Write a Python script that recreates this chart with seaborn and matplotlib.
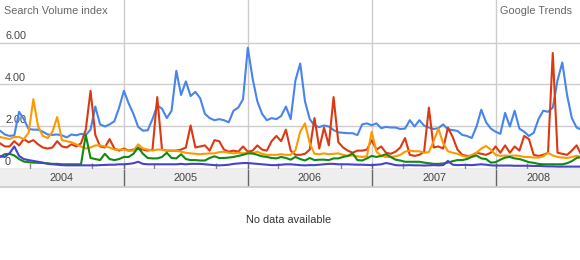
import numpy as np
import pandas as pd
import matplotlib
matplotlib.use("Agg")
import matplotlib.pyplot as plt
import matplotlib.transforms as mtransforms
import seaborn as sns

# ---------------- data ----------------
dates = pd.date_range("2004-01-04", periods=123, freq="14D")

blue = [1.80, 1.62, 1.55, 1.58, 2.70, 2.35, 1.88, 1.85, 1.85, 1.75,
        1.62, 1.60, 1.62, 1.58, 1.48, 1.62, 1.58, 1.65, 1.60, 1.85,
        2.95, 2.10, 2.00, 2.10, 2.25, 2.90, 3.70, 3.10, 2.60, 1.98,
        1.80, 1.82, 2.35, 3.00, 2.85, 2.40, 2.75, 4.65, 3.50, 4.15,
        3.45, 3.65, 3.35, 2.60, 2.40, 2.30, 2.35, 2.30, 2.20, 2.75,
        2.90, 3.30, 5.75, 4.30, 3.20, 2.60, 2.30, 2.40, 2.35, 2.50,
        2.95, 2.35, 4.20, 5.00, 3.20, 2.35, 2.05, 1.97, 2.05, 2.00,
        1.83, 1.72, 1.70, 1.68, 1.68, 1.59, 2.10, 2.15, 2.06, 2.15,
        1.92, 1.98, 1.95, 1.95, 1.88, 1.90, 2.30, 2.00, 2.30, 2.04,
        1.95, 1.88, 1.92, 2.10, 1.86, 1.83, 1.79, 1.60, 1.55, 1.45,
        2.00, 2.80, 2.20, 1.90, 1.75, 1.65, 2.65, 2.00, 2.75, 1.90,
        1.75, 1.55, 1.70, 2.35, 2.75, 2.70, 2.90, 4.20, 5.05, 3.50,
        2.40, 1.95, 1.85]

red = [1.20, 1.05, 1.05, 1.30, 1.10, 1.40, 1.25, 1.35, 1.15, 1.00,
       0.95, 1.00, 1.30, 1.05, 1.00, 1.15, 1.05, 1.20, 1.85, 3.70,
       1.60, 1.05, 1.00, 1.40, 0.95, 0.85, 0.95, 0.85, 0.90, 0.95,
       0.90, 0.85, 0.90, 3.40, 0.90, 0.85, 0.85, 0.85, 0.90, 1.00,
       2.05, 1.00, 1.05, 1.10, 0.85, 1.35, 1.30, 0.90, 0.80, 0.85,
       0.80, 1.05, 0.80, 0.85, 1.10, 0.90, 0.85, 1.30, 1.55, 1.30,
       1.85, 0.85, 0.65, 0.65, 0.70, 0.90, 2.40, 0.95, 1.95, 1.10,
       3.40, 1.25, 1.00, 0.85, 0.75, 0.85, 0.85, 0.90, 1.35, 0.90,
       1.05, 0.75, 0.70, 0.80, 1.00, 1.45, 0.65, 0.60, 0.65, 0.80,
       2.90, 1.00, 1.05, 0.95, 1.95, 1.50, 0.90, 0.65, 0.60, 0.60,
       0.75, 0.70, 0.65, 0.75, 1.05, 0.75, 1.10, 0.75, 1.05, 0.85,
       1.55, 1.40, 0.65, 0.60, 0.65, 0.75, 5.50, 0.75, 0.70, 0.65,
       0.85, 1.10, 0.65]

orange = [1.50, 1.45, 1.40, 1.50, 1.50, 1.40, 1.70, 3.30, 2.00, 1.55,
          1.45, 1.75, 2.45, 1.35, 1.30, 1.25, 1.15, 1.05, 0.95, 1.00,
          1.10, 1.10, 1.05, 1.00, 0.90, 0.90, 0.90, 0.85, 0.85, 1.15,
          0.95, 0.90, 0.85, 0.90, 0.90, 0.85, 0.85, 0.85, 0.80, 0.75,
          0.72, 0.70, 0.68, 0.70, 0.72, 0.72, 0.78, 0.80, 0.75, 0.72,
          0.75, 0.72, 0.75, 0.72, 0.80, 0.70, 0.65, 0.65, 0.65, 0.68,
          0.65, 0.65, 0.87, 1.75, 2.15, 1.20, 0.70, 0.68, 0.72, 0.68,
          0.70, 0.72, 0.65, 0.60, 0.62, 0.58, 0.55, 0.58, 1.75, 0.80,
          0.60, 0.55, 0.55, 0.58, 0.65, 0.80, 0.85, 0.82, 0.82, 0.75,
          0.78, 1.30, 1.90, 1.20, 0.82, 0.75, 0.70, 0.60, 0.55, 0.65,
          0.75, 0.95, 1.07, 0.90, 0.65, 0.60, 0.62, 0.60, 0.62, 0.60,
          0.55, 0.55, 0.52, 0.52, 0.58, 0.75, 0.62, 0.55, 0.52, 0.50,
          0.55, 0.60, 0.55]

green = [0.55, 0.68, 0.70, 0.62, 0.45, 0.33, 0.30, 0.28, 0.27, 0.26,
         0.25, 0.22, 0.22, 0.20, 0.20, 0.20, 0.20, 0.20, 1.60, 0.50,
         0.45, 0.40, 0.70, 0.45, 0.40, 0.45, 0.55, 0.55, 0.70, 1.00,
         0.70, 0.50, 0.48, 0.48, 0.55, 0.75, 0.50, 0.48, 0.68, 0.45,
         0.40, 0.40, 0.38, 0.38, 0.50, 0.58, 0.50, 0.50, 0.52, 0.55,
         0.60, 0.65, 0.72, 0.72, 0.65, 0.58, 0.55, 0.50, 0.48, 0.55,
         0.50, 0.42, 0.55, 0.45, 0.38, 0.50, 0.40, 0.42, 0.42, 0.40,
         0.48, 0.48, 0.55, 0.60, 0.72, 0.40, 0.38, 0.48, 0.60, 0.55,
         0.60, 0.68, 0.55, 0.42, 0.38, 0.32, 0.32, 0.32, 0.32, 0.28,
         0.25, 0.22, 0.22, 0.24, 0.28, 0.35, 0.40, 0.40, 0.45, 0.55,
         0.62, 0.48, 0.45, 0.28, 0.30, 0.42, 0.52, 0.55, 0.48, 0.45,
         0.38, 0.30, 0.27, 0.22, 0.20, 0.20, 0.20, 0.20, 0.20, 0.25,
         0.35, 0.50, 0.55]

purple = [0.58, 0.55, 0.72, 1.05, 0.60, 0.45, 0.40, 0.36, 0.32, 0.28,
          0.22, 0.20, 0.18, 0.16, 0.15, 0.15, 0.15, 0.15, 0.15, 0.15,
          0.15, 0.16, 0.17, 0.18, 0.18, 0.20, 0.20, 0.22, 0.25, 0.32,
          0.22, 0.20, 0.20, 0.20, 0.20, 0.20, 0.20, 0.20, 0.22, 0.20,
          0.22, 0.22, 0.22, 0.20, 0.18, 0.16, 0.15, 0.16, 0.18, 0.22,
          0.24, 0.26, 0.26, 0.24, 0.22, 0.20, 0.18, 0.16, 0.16, 0.18,
          0.20, 0.20, 0.18, 0.16, 0.15, 0.16, 0.16, 0.18, 0.20, 0.22,
          0.22, 0.20, 0.20, 0.20, 0.19, 0.18, 0.18, 0.17, 0.16, 0.18,
          0.20, 0.26, 0.22, 0.16, 0.15, 0.15, 0.16, 0.15, 0.15, 0.14,
          0.15, 0.16, 0.15, 0.16, 0.36, 0.18, 0.16, 0.17, 0.17, 0.16,
          0.18, 0.20, 0.18, 0.15, 0.14, 0.14, 0.14, 0.14, 0.13, 0.13,
          0.13, 0.13, 0.12, 0.12, 0.11, 0.10, 0.10, 0.09, 0.09, 0.09,
          0.09, 0.09, 0.09]

series_names = ["a", "b", "c", "d", "e"]
series_colors = ["#4684ee", "#dc3912", "#ff9900", "#108a10", "#4942cc"]

ytick_values = [0, 2, 4, 6]
ytick_labels = ["0", "2.00", "4.00", "6.00"]
years = [2004, 2005, 2006, 2007, 2008]
title_left = "Search Volume index"
title_right = "Google Trends"
empty_message = "No data available"

# ---------------- build ----------------
sns.set_theme(style="white")
plt.rcParams["font.family"] = ["Liberation Sans", "DejaVu Sans"]

df = pd.concat(
    [pd.DataFrame({"date": dates, "value": vals, "series": name})
     for name, vals in zip(series_names, [blue, red, orange, green, purple])],
    ignore_index=True,
)

W, H = 580, 260
fig = plt.figure(figsize=(W / 100, H / 100), dpi=100)
fig.patch.set_facecolor("white")

x_left = pd.Timestamp("2004-01-04")
x_right = pd.Timestamp("2008-09-03")

ax = fig.add_axes([0, 1 - 169 / H, 1, 169 / H])
ax.set_facecolor("white")
year_starts = [pd.Timestamp(f"{y}-01-01") for y in years[1:]]
ax.set_xticks(year_starts)
ax.set_yticks(ytick_values[1:])
ax.grid(True, color="#cccccc", linewidth=1.0)
ax.tick_params(length=0, labelbottom=False, labelleft=False)
for s in ["top", "left", "right"]:
    ax.spines[s].set_visible(False)
ax.spines["bottom"].set_color("#999999")
ax.spines["bottom"].set_linewidth(1.0)

blend = mtransforms.blended_transform_factory(ax.transAxes, ax.transData)
for v, lab in zip(ytick_values, ytick_labels):
    ax.text(5 / W, v + 0.06, lab, transform=blend, ha="left", va="bottom",
            fontsize=7.8, color="#444444", zorder=1)

sns.lineplot(data=df, x="date", y="value", hue="series",
             hue_order=series_names, palette=dict(zip(series_names, series_colors)),
             linewidth=1.5, legend=False, ax=ax, errorbar=None, zorder=3)

ax.set_xlim(x_left, x_right)
ax.set_ylim(-0.024, 8.024)
ax.set_xlabel("")
ax.set_ylabel("")

# small ticks above axis
quarter_ticks = [pd.Timestamp(f"{y}-{m:02d}-01") for y in years for m in (4, 10)]
quarter_ticks = [d for d in quarter_ticks if d < x_right]
ax.vlines(quarter_ticks, -0.024, 0.27, color="#888888", linewidth=1.0, zorder=2)
ax.vlines(year_starts, -0.024, 0.27, color="#666666", linewidth=1.0, zorder=2)

# date band
axb = fig.add_axes([0, 1 - 187 / H, 1, 18 / H])
axb.set_facecolor("#eeeeee")
axb.set_xlim(x_left, x_right)
axb.set_ylim(0, 1)
axb.set_xticks([])
axb.set_yticks([])
for s in ["top", "left", "right"]:
    axb.spines[s].set_visible(False)
axb.spines["bottom"].set_color("#cccccc")
axb.vlines(year_starts, 0, 1, color="#666666", linewidth=1.0)
for y in years:
    a = max(pd.Timestamp(f"{y}-01-01"), x_left)
    b = min(pd.Timestamp(f"{y + 1}-01-01"), x_right)
    mid = a + (b - a) / 2
    axb.text(mid, 0.5, str(y), ha="center", va="center", fontsize=7.8, color="#444444")

fig.text(4 / W, 1 - 10.5 / H, title_left, ha="left", va="center", fontsize=7.8, color="#666666")
fig.text(572 / W, 1 - 10.5 / H, title_right, ha="right", va="center", fontsize=7.8, color="#666666")
fig.text(289 / W, 1 - 220 / H, empty_message, ha="center", va="center", fontsize=7.8, color="#333333")

fig.savefig("out.png", dpi=100, facecolor="white")
